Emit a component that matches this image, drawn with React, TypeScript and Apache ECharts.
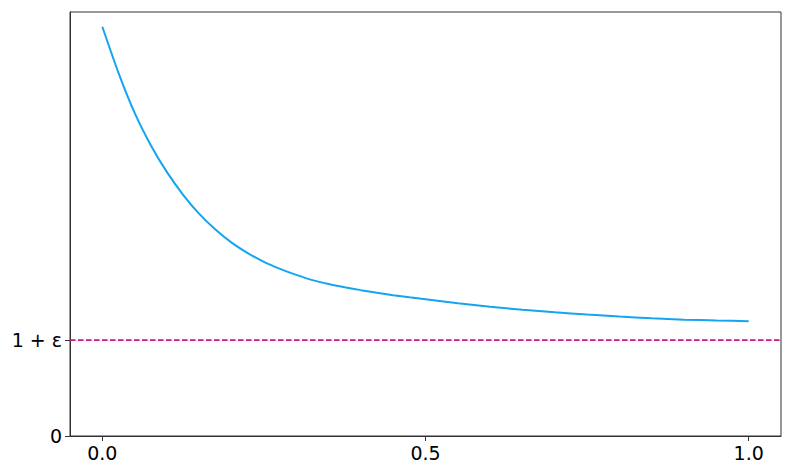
import React, { useEffect, useRef } from "react";
import * as echarts from "echarts";

const xValues = [0, 0.025, 0.05, 0.075, 0.1, 0.125, 0.15, 0.175, 0.2, 0.225, 0.25, 0.275, 0.3, 0.325, 0.35, 0.375, 0.4, 0.425, 0.45, 0.475, 0.5, 0.55, 0.6, 0.65, 0.7, 0.75, 0.8, 0.85, 0.9, 0.95, 1.0];
const yValues = [4.70, 4.17, 3.71, 3.34, 3.03, 2.77, 2.55, 2.37, 2.22, 2.10, 2.00, 1.92, 1.85, 1.79, 1.745, 1.708, 1.675, 1.645, 1.617, 1.592, 1.57, 1.525, 1.485, 1.45, 1.42, 1.395, 1.372, 1.352, 1.336, 1.326, 1.318];
const epsLevel = 1.1;
const xTicks = [0, 0.5, 1.0];
const yTicks = [0, epsLevel];
const yTickLabels = ["0", "1 + ε"];
const xMin = -0.05;
const xMax = 1.05;
const yMin = 0;
const yMax = 4.869;

export default function App() {
  const ref = useRef<HTMLDivElement>(null);
  useEffect(() => {
    if (!ref.current) return;
    const chart = echarts.init(ref.current, null, { renderer: "svg" });
    const font = "DejaVu Sans";
    chart.setOption({
      animation: false,
      backgroundColor: "#ffffff",
      grid: {
        left: 70,
        right: 12,
        top: 12,
        bottom: 40,
        show: true,
        borderColor: "#333333",
        borderWidth: 1,
        backgroundColor: "transparent",
      },
      xAxis: {
        type: "value",
        min: xMin,
        max: xMax,
        axisLine: { show: true, onZero: false, lineStyle: { color: "#333333", width: 1 } },
        axisTick: { show: true, customValues: xTicks, length: 5, lineStyle: { color: "#333333" } },
        axisLabel: {
          customValues: xTicks,
          formatter: (v: number) => v.toFixed(1),
          color: "#000000",
          fontFamily: font,
          fontSize: 19,
          margin: 7,
        },
        splitLine: { show: false },
      },
      yAxis: {
        type: "value",
        min: yMin,
        max: yMax,
        axisLine: { show: true, onZero: false, lineStyle: { color: "#333333", width: 1 } },
        axisTick: { show: true, customValues: yTicks, length: 5, lineStyle: { color: "#333333" } },
        axisLabel: {
          customValues: yTicks,
          formatter: (v: number) => {
            const i = yTicks.findIndex((t) => Math.abs(t - v) < 1e-9);
            return i >= 0 ? yTickLabels[i] : "";
          },
          color: "#000000",
          fontFamily: font,
          fontSize: 19,
          margin: 8,
        },
        splitLine: { show: false },
      },
      series: [
        {
          type: "line",
          data: [
            [xMin, epsLevel],
            [xMax, epsLevel],
          ],
          showSymbol: false,
          symbol: "none",
          lineStyle: { color: "#c71585", width: 1.8, type: [5.5, 2.5] },
          z: 1,
        },
        {
          type: "line",
          data: xValues.map((x, i) => [x, yValues[i]]),
          showSymbol: false,
          symbol: "none",
          smooth: 0.2,
          lineStyle: { color: "#14a4f0", width: 2 },
          z: 2,
        },
      ],
    });
    return () => chart.dispose();
  }, []);
  return (
    <div
      ref={ref}
      style={{ position: "fixed", left: 0, top: 0, width: 793, height: 476 }}
    />
  );
}
